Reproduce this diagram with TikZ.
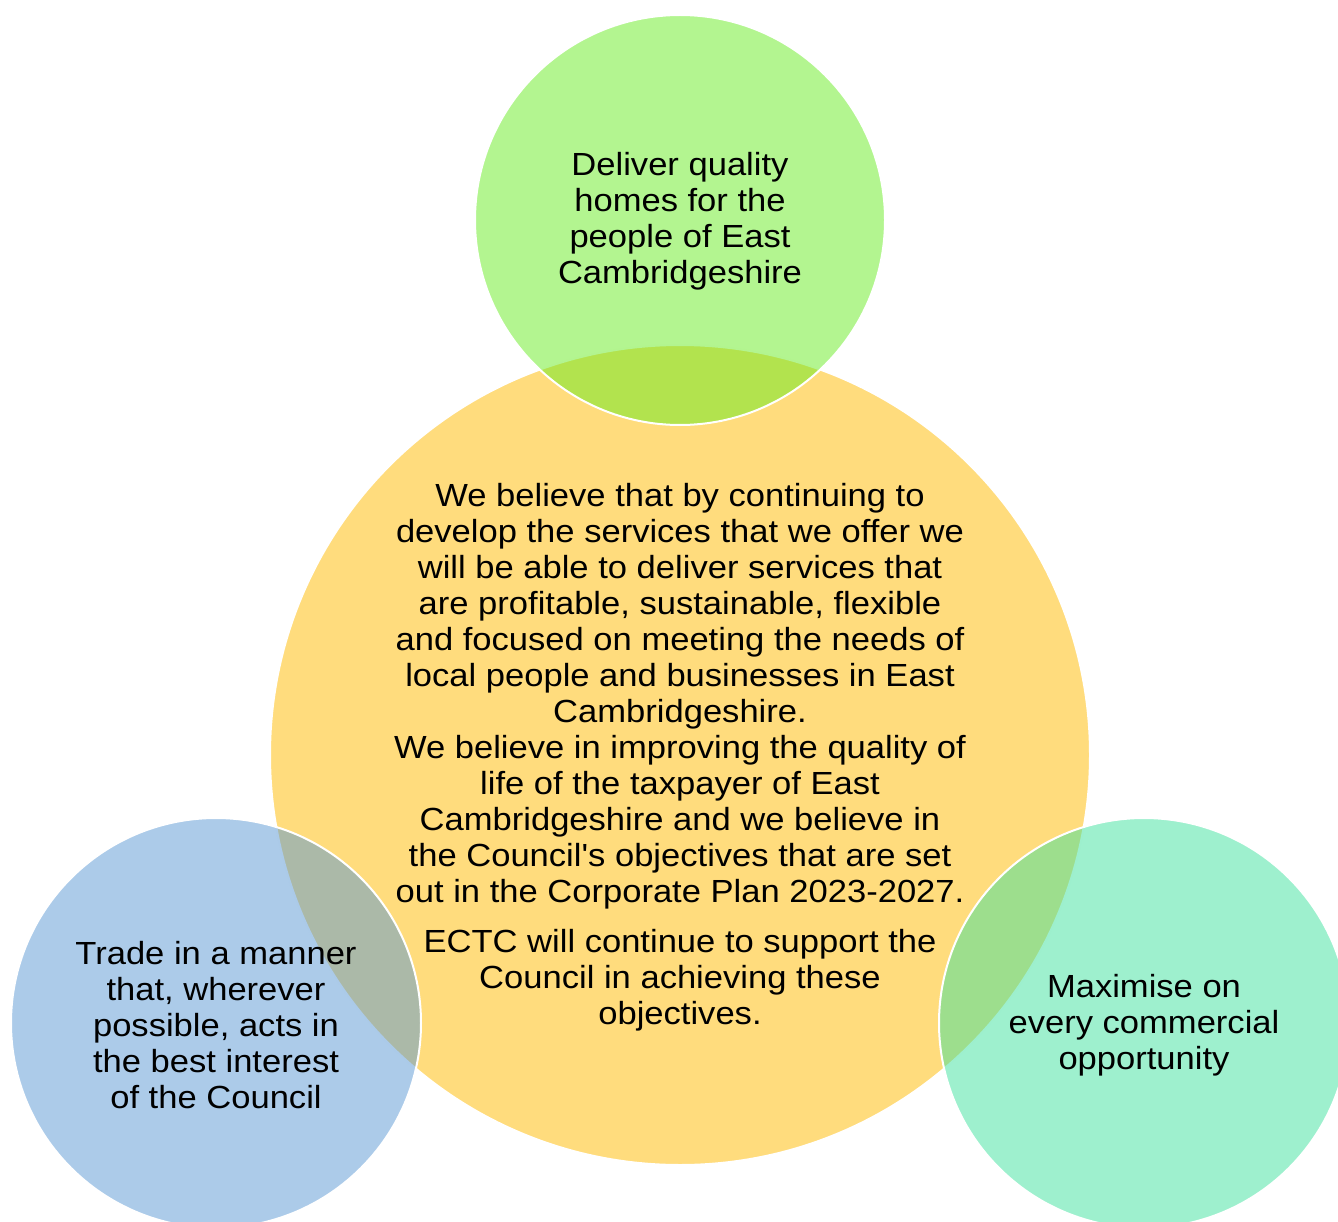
\documentclass[tikz,border=0pt]{standalone}
\usepackage{fontspec}
\setmainfont{Liberation Sans}[Ligatures=TeXOff, FakeStretch=1.08]
\definecolor{cyel}{RGB}{255,220,125}
\definecolor{cgrn}{RGB}{103,235,33}
\definecolor{cblu}{RGB}{89,151,211}
\definecolor{cteal}{RGB}{61,225,157}
\begin{document}
\begin{tikzpicture}[x=1pt,y=-1pt,
  bubble/.style={circle, inner sep=0pt, minimum size=410pt, draw=white, line width=2pt, fill opacity=0.5, draw opacity=1},
  lbl/.style={align=center, font=\fontsize{32}{36}\selectfont, text=black, inner sep=0pt}]
\useasboundingbox (0,0) rectangle (1338,1222);
\clip (0,0) rectangle (1338,1222);
\node[circle, inner sep=0pt, minimum size=820pt, fill=cyel, draw=white, line width=2pt] (core) at (680,755) {};
\node[bubble, fill=cgrn] (homes) at (680,220) {};
\node[bubble, fill=cblu] (trade) at (216,1023) {};
\node[bubble, fill=cteal] (comm) at (1144,1023) {};
\node[lbl] (coretext) at (680,757) {We believe that by continuing to\\
develop the services that we offer we\\
will be able to deliver services that\\
are profitable, sustainable, flexible\\
and focused on meeting the needs of\\
local people and businesses in East\\
Cambridgeshire.\\
We believe in improving the quality of\\
life of the taxpayer of East\\
Cambridgeshire and we believe in\\
the Council's objectives that are set\\
out in the Corporate Plan 2023-2027.\\[14pt]
ECTC will continue to support the\\
Council in achieving these\\
objectives.};
\node[lbl] (homestext) at (680,221) {Deliver quality\\homes for the\\people of East\\Cambridgeshire};
\node[lbl] (tradetext) at (216,1025) {Trade in a manner\\that, wherever\\possible, acts in\\the best interest\\of the Council};
\node[lbl] (commtext) at (1144,1025) {Maximise on\\every commercial\\opportunity};
\end{tikzpicture}
\end{document}
